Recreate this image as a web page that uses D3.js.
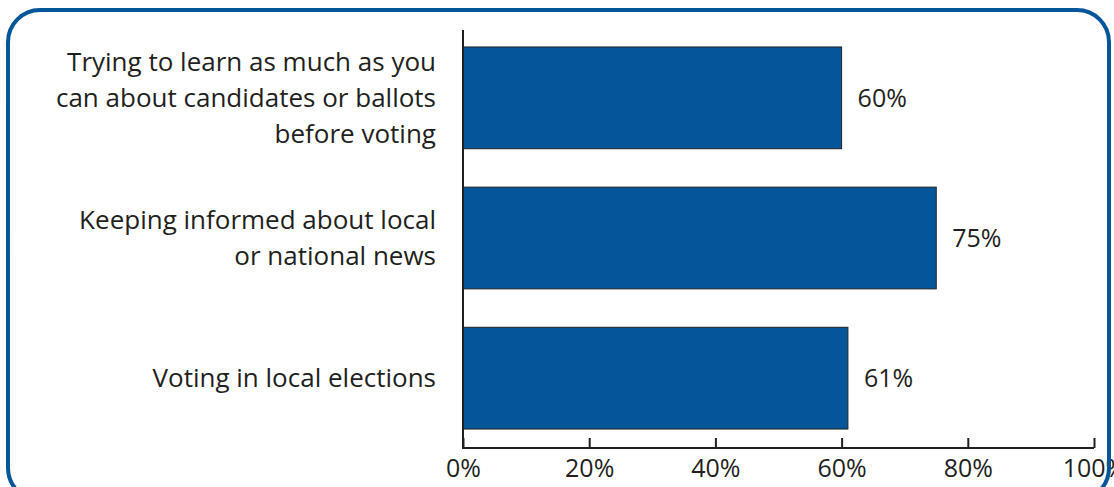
<!DOCTYPE html>
<html><head><meta charset="utf-8">
<script src="https://cdn.jsdelivr.net/npm/d3@7"></script>
<style>body{margin:0;background:#fff}svg{display:block}</style>
</head><body>
<script>
const categories = [
  ["Trying to learn as much as you","can about candidates or ballots","before voting"],
  ["Keeping informed about local","or national news"],
  ["Voting in local elections"]
];
const values = [60, 75, 61];
const tickValues = [0, 20, 40, 60, 80, 100];
const tickLabels = ["0%", "20%", "40%", "60%", "80%", "100%"];

const W = 1114, H = 487;
const svg = d3.select("body").append("svg").attr("width", W).attr("height", H);
const font = "'Open Sans', sans-serif";
const blue = "#04559a";
const ink = "#231f20";
const fs = 26;

const x = d3.scaleLinear().domain([0, 100]).range([463, 1094]);
const y = d3.scaleBand().domain(d3.range(values.length)).range([30, 446]).paddingInner(0.274).paddingOuter(0.121);

const g = svg.append("g");
g.selectAll("rect.bar").data(values).join("rect").attr("class", "bar")
  .attr("x", x(0)).attr("y", (d, i) => y(i)).attr("width", d => x(d) - x(0)).attr("height", y.bandwidth())
  .attr("fill", blue).attr("stroke", "#222").attr("stroke-width", 1);

g.selectAll("text.val").data(values).join("text").attr("class", "val")
  .attr("x", d => x(d) + 16).attr("y", (d, i) => y(i) + y.bandwidth() / 2)
  .attr("dy", "0.35em").attr("font-family", font).attr("font-size", fs - 1).attr("fill", ink)
  .text(d => d + "%");

const lh = 36;
categories.forEach((lines, i) => {
  const cy = y(i) + y.bandwidth() / 2;
  const t = g.append("text").attr("text-anchor", "end").attr("font-family", font)
    .attr("font-size", fs).attr("fill", ink);
  lines.forEach((l, j) => {
    t.append("tspan").attr("x", 436).attr("y", cy + (j - (lines.length - 1) / 2) * lh).attr("dy", "0.35em").text(l);
  });
});

const axis = d3.axisBottom(x).tickValues(tickValues).tickFormat((d, i) => tickLabels[i]).tickSize(-10).tickPadding(11);
const ax = svg.append("g").attr("transform", "translate(0,448)").call(axis);
ax.select(".domain").remove();
ax.selectAll(".tick line").attr("stroke", ink).attr("stroke-width", 2);
ax.selectAll(".tick text").attr("font-family", font).attr("font-size", fs - 1).attr("fill", ink);
svg.append("line").attr("x1", x(0)).attr("x2", x(100)).attr("y1", 448).attr("y2", 448).attr("stroke", ink).attr("stroke-width", 2);
svg.append("line").attr("x1", x(0)).attr("x2", x(0)).attr("y1", 30).attr("y2", 449).attr("stroke", ink).attr("stroke-width", 2);

svg.append("rect").attr("x", 8).attr("y", 10).attr("width", 1101).attr("height", 490)
  .attr("rx", 32).attr("fill", "none").attr("stroke", blue).attr("stroke-width", 4);
</script>
</body></html>
